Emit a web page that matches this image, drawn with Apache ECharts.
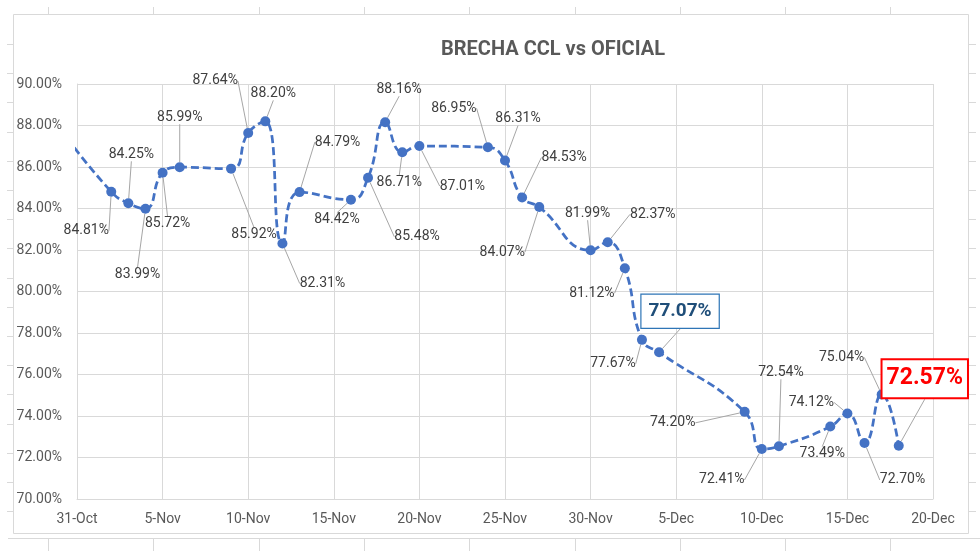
<!DOCTYPE html>
<html><head><meta charset="utf-8">
<script src="https://cdn.jsdelivr.net/npm/echarts@6/dist/echarts.min.js"></script>
<style>html,body{margin:0;padding:0;background:#fff}#c{width:980px;height:551px}</style>
</head><body><div id="c"></div>
<script>
// ---- data ----
const startDate = '2021-10-31';
const dates = ['2021-10-30','2021-11-02','2021-11-03','2021-11-04','2021-11-05','2021-11-06',
  '2021-11-09','2021-11-10','2021-11-11','2021-11-12','2021-11-13','2021-11-16','2021-11-17',
  '2021-11-18','2021-11-19','2021-11-20','2021-11-24','2021-11-25','2021-11-26','2021-11-27',
  '2021-11-30','2021-12-01','2021-12-02','2021-12-03','2021-12-04','2021-12-09','2021-12-10',
  '2021-12-11','2021-12-14','2021-12-15','2021-12-16','2021-12-17','2021-12-18'];
const values = [87.85,84.81,84.25,83.99,85.72,85.99,
  85.92,87.64,88.20,82.31,84.79,84.42,85.48,
  88.16,86.71,87.01,86.95,86.31,84.53,84.07,
  81.99,82.37,81.12,77.67,77.07,74.20,72.41,
  72.54,73.49,74.12,72.70,75.04,72.57];
const xMaxDays = 50, xStep = 5;
const yMin = 70, yMax = 90, yStep = 2;
const monthNames = ['Jan','Feb','Mar','Apr','May','Jun','Jul','Aug','Sep','Oct','Nov','Dec'];

// ---- label layout (offset of label centre from point, px) ----
const labelOffsets = [null,[-25,39],[3,-49],[-8,66],[5,51],[0,-50],
  [23,66],[-33,-52],[8,-28],[40,40],[38,-50],[-14,20],[49,59],
  [14,-33],[-3,30],[43,40],[-34,-39],[13,-42],[42,-40],[-37,45],
  [-3,-37],[45,-28],[-33,25],[-29,24],[21,-41],[-72,11],[-40,31],
  [2,-74],[-8,27],[-36,-11],[38,37],[-40,-37],[26,-67]];
const blueIdx = 24, redIdx = 32;

const DAY = 86400000;
const t0 = Date.parse(startDate + 'T00:00:00Z');
function dayOf(s){ return Math.round((Date.parse(s + 'T00:00:00Z') - t0) / DAY); }
function fmtDay(v){ const d = new Date(t0 + v * DAY); return d.getUTCDate() + '-' + monthNames[d.getUTCMonth()]; }

const seriesData = dates.map((d, i) => {
  const item = { value: [dayOf(d), values[i]] };
  if (i === 0) item.label = { show: false };
  if (i === blueIdx) item.label = { color: '#1F4E79', fontWeight: 'bold', fontSize: 19,
    borderColor: '#2E75B6', borderWidth: 1.2, padding: [8, 7, 6, 7], backgroundColor: '#fff' };
  if (i === redIdx) item.label = { color: '#FF0000', fontWeight: 'bold', fontSize: 23,
    borderColor: '#FF0000', borderWidth: 2, padding: [8, 4, 6, 4], backgroundColor: '#fff' };
  return item;
});

// ---- decoration: spreadsheet cell lines around the chart ----
const deco = [];
const gc = '#d9d9d9';
deco.push({ type: 'rect', shape: { x: 13.5, y: 14.5, width: 955, height: 519 }, style: { fill: 'none', stroke: gc, lineWidth: 1 }, z: 0 });
deco.push({ type: 'line', shape: { x1: 8, y1: 538.5, x2: 980, y2: 538.5 }, style: { stroke: gc, lineWidth: 1 } });
for (let x = 48; x < 980; x += 105.3) {
  deco.push({ type: 'line', shape: { x1: Math.round(x) + .5, y1: 7, x2: Math.round(x) + .5, y2: 14 }, style: { stroke: gc, lineWidth: 1 } });
  deco.push({ type: 'line', shape: { x1: Math.round(x) + .5, y1: 538, x2: Math.round(x) + .5, y2: 551 }, style: { stroke: gc, lineWidth: 1 } });
}
for (let y = 44; y < 533; y += 29.2) {
  deco.push({ type: 'line', shape: { x1: 7, y1: Math.round(y) + .5, x2: 13, y2: Math.round(y) + .5 }, style: { stroke: gc, lineWidth: 1 } });
  deco.push({ type: 'line', shape: { x1: 968, y1: Math.round(y) + .5, x2: 976, y2: Math.round(y) + .5 }, style: { stroke: gc, lineWidth: 1 } });
}

const chart = echarts.init(document.getElementById('c'), null, { renderer: 'canvas' });
chart.setOption({
  animation: false,
  backgroundColor: '#fff',
  title: {
    text: 'BRECHA CCL vs OFICIAL', left: 548, top: 35, textAlign: 'center',
    textStyle: { fontFamily: 'Roboto', fontWeight: 'bold', fontSize: 20, color: '#595959' }
  },
  graphic: deco,
  grid: { left: 77, right: 47, top: 84, bottom: 52, containLabel: false },
  xAxis: {
    type: 'value', min: 0, max: xMaxDays, interval: xStep,
    axisLine: { show: true, lineStyle: { color: gc } },
    axisTick: { show: false },
    splitLine: { show: true, lineStyle: { color: gc, width: 1 } },
    axisLabel: { formatter: fmtDay, color: '#595959', fontFamily: 'Roboto', fontSize: 14, margin: 13 }
  },
  yAxis: {
    type: 'value', min: yMin, max: yMax, interval: yStep,
    axisLine: { show: true, lineStyle: { color: gc } },
    axisTick: { show: false },
    splitLine: { show: true, lineStyle: { color: gc, width: 1 } },
    axisLabel: { formatter: v => v.toFixed(2) + '%', color: '#595959', fontFamily: 'Roboto', fontSize: 14, margin: 15 }
  },
  series: [{
    type: 'line',
    data: seriesData,
    smooth: 0.5,
    clip: true,
    symbol: 'circle', symbolSize: 10,
    itemStyle: { color: '#4472C4' },
    lineStyle: { color: '#4472C4', width: 2.75, type: [8, 4] },
    label: {
      show: true, position: 'inside',
      formatter: p => p.value[1].toFixed(2) + '%',
      color: '#404040', fontFamily: 'Roboto', fontSize: 14
    },
    labelLine: { show: true, lineStyle: { color: '#a6a6a6', width: 1 } },
    labelLayout: function (params) {
      const off = labelOffsets[params.dataIndex];
      if (!off) return {};
      const cx = params.rect.x + params.rect.width / 2;
      const cy = params.rect.y + params.rect.height / 2;
      return { x: cx + off[0], y: cy + off[1], align: 'center', verticalAlign: 'middle' };
    }
  }]
});
</script></body></html>
